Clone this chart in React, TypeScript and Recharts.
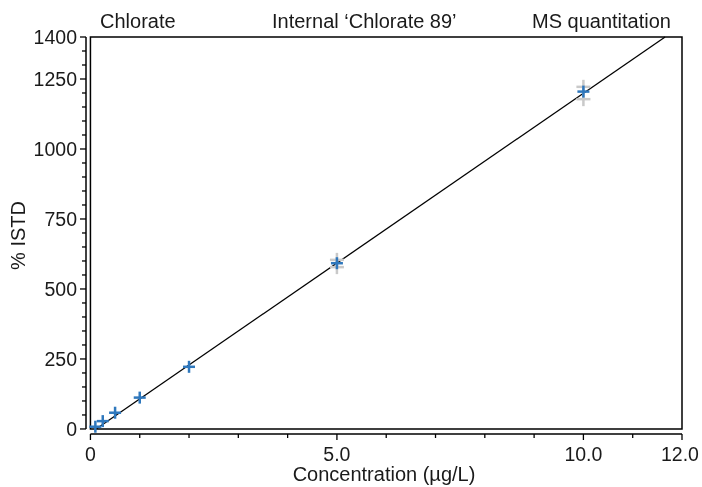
import {
  ScatterChart,
  Scatter,
  XAxis,
  YAxis,
  ReferenceArea,
  ReferenceLine,
} from "recharts";

// calibration levels (µg/L) and mean response (% ISTD)
const concentrations = [0.1, 0.25, 0.5, 1, 2, 5, 10];
const istdMean = [8, 28, 58, 112, 222, 592, 1205];

// individual replicates visible behind the means
const replicateConc = [5, 5, 10, 10];
const replicateIstd = [604, 578, 1222, 1178];

// linear fit
const fitSlope = 121.3;
const fitIntercept = -14;

const xTicks = [0, 1, 2, 3, 4, 5, 6, 7, 8, 9, 10, 11, 12];
const xTickLabels: Record<number, string> = { 0: "0", 5: "5.0", 10: "10.0", 12: "12.0" };
const yTicks = [
  0, 50, 100, 150, 200, 250, 300, 350, 400, 450, 500, 550, 600, 650, 700,
  750, 800, 850, 900, 950, 1000, 1050, 1100, 1150, 1200, 1250, 1300, 1350, 1400,
];
const yTickLabels = [0, 250, 500, 750, 1000, 1250, 1400];

const titleLeft = "Chlorate";
const titleMid = "Internal \u2018Chlorate 89\u2019";
const titleRight = "MS quantitation";

const FONT = "'Liberation Sans', Arial, Helvetica, sans-serif";
const TEXT = "#1a1a1a";
const BLUE = "#2f78bd";
const GREY = "#c9c9c9";

const meanData = concentrations.map((c, i) => ({ conc: c, istd: istdMean[i] }));
const repData = replicateConc.map((c, i) => ({ conc: c, istd: replicateIstd[i] }));

const fitStart = (0 - fitIntercept) / fitSlope;
const fitEnd = (1400 - fitIntercept) / fitSlope;

const Plus = ({ cx, cy, color, size }: any) => (
  <g>
    <line x1={cx - size} x2={cx + size} y1={cy} y2={cy} stroke={color} strokeWidth={2.5} />
    <line x1={cx} x2={cx} y1={cy - size} y2={cy + size} stroke={color} strokeWidth={2.5} />
  </g>
);

const XTick = ({ x, y, payload }: any) => {
  const v = payload.value;
  const label = xTickLabels[v];
  const shift = v === 12 ? -2 : 0;
  return (
    <g>
      <line x1={x} x2={x} y1={y} y2={y + (label ? 6 : 4)} stroke="#000" strokeWidth={1.3} />
      {label && (
        <text x={x + shift} y={y + 27} textAnchor="middle" fontFamily={FONT} fontSize={19.5} fill={TEXT}>
          {label}
        </text>
      )}
    </g>
  );
};

const YTick = ({ x, y, payload }: any) => {
  const v = payload.value;
  const major = yTickLabels.includes(v);
  return (
    <g>
      <line x1={x} x2={x - (major ? 6 : 4)} y1={y} y2={y} stroke="#000" strokeWidth={1.3} />
      {major && (
        <text x={x - 9} y={y} dy="0.36em" textAnchor="end" fontFamily={FONT} fontSize={19.5} fill={TEXT}>
          {v}
        </text>
      )}
    </g>
  );
};

export default function App() {
  // fixed so the full-window chart never triggers scrollbars
  return (
    <div style={{ position: "fixed", left: 8, top: 8, width: 694, height: 479 }}>
      <ScatterChart width={694} height={479} margin={{ top: 29, right: 20, bottom: 0, left: 0 }}>
        <XAxis
          type="number"
          dataKey="conc"
          domain={[-0.09, 12]}
          ticks={xTicks}
          interval={0}
          axisLine={false}
          tickLine={false}
          tickSize={0}
          tickMargin={0}
          height={53}
          tick={<XTick />}
          label={{
            value: "Concentration (\u00b5g/L)",
            position: "insideBottom",
            offset: 6,
            fontFamily: FONT,
            fontSize: 20,
            fill: TEXT,
          }}
        />
        <YAxis
          type="number"
          dataKey="istd"
          domain={[-18, 1400]}
          ticks={yTicks}
          interval={0}
          axisLine={false}
          tickLine={false}
          tickSize={0}
          tickMargin={0}
          width={78}
          tick={<YTick />}
          label={{
            value: "% ISTD",
            angle: -90,
            position: "insideLeft",
            offset: 10,
            fontFamily: FONT,
            fontSize: 20,
            fill: TEXT,
            style: { textAnchor: "middle" },
          }}
        />
        <ReferenceArea x1={0} x2={12} y1={0} y2={1400} fill="none" stroke="#000" strokeWidth={1.5} />
        <ReferenceLine segment={[{ x: 0, y: -18 }, { x: 12, y: -18 }]} stroke="#000" strokeWidth={1.5} />
        <ReferenceLine segment={[{ x: -0.09, y: 0 }, { x: -0.09, y: 1400 }]} stroke="#000" strokeWidth={1.5} />
        <ReferenceLine
          segment={[{ x: fitStart, y: 0 }, { x: fitEnd, y: 1400 }]}
          stroke="#000"
          strokeWidth={1.3}
        />
        <Scatter
          data={repData}
          isAnimationActive={false}
          shape={(p: any) => <Plus cx={p.cx} cy={p.cy} color={GREY} size={7} />}
        />
        <Scatter
          data={meanData}
          isAnimationActive={false}
          shape={(p: any) => <Plus cx={p.cx} cy={p.cy} color={BLUE} size={6} />}
        />
        <text x={92} y={20} fontFamily={FONT} fontSize={20} fill={TEXT}>
          {titleLeft}
        </text>
        <text x={264} y={20} fontFamily={FONT} fontSize={20} fill={TEXT}>
          {titleMid}
        </text>
        <text x={663} y={20} textAnchor="end" fontFamily={FONT} fontSize={20} fill={TEXT}>
          {titleRight}
        </text>
      </ScatterChart>
    </div>
  );
}
